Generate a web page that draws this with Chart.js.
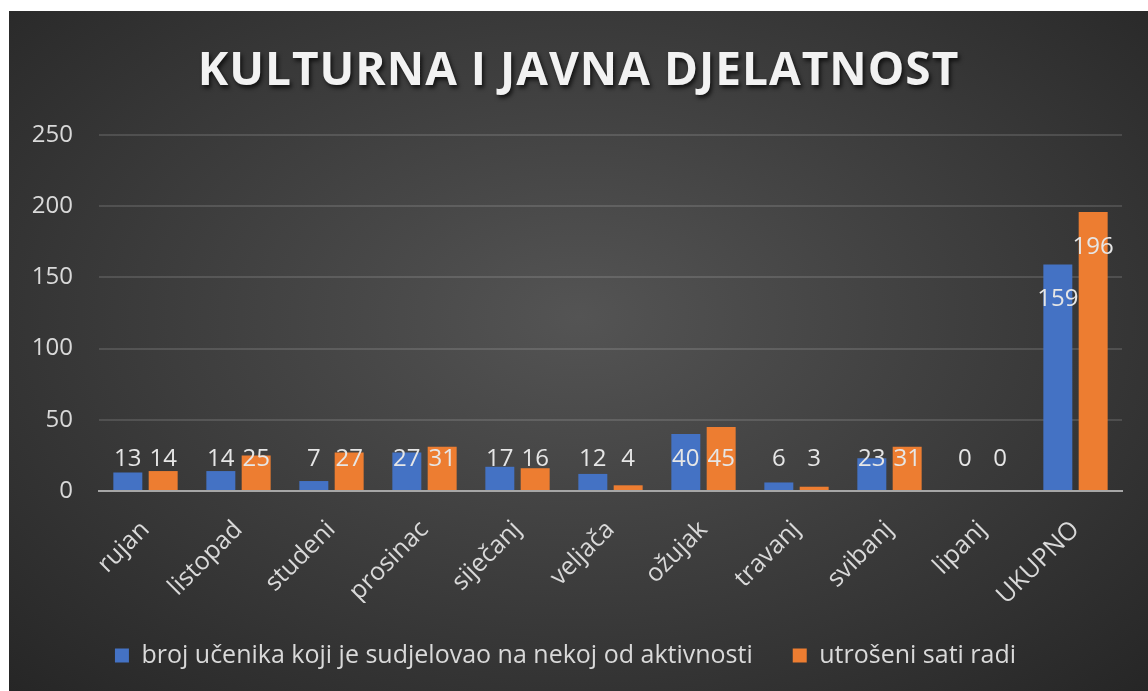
<!DOCTYPE html>
<html>
<head>
<meta charset="utf-8">
<script src="https://cdn.jsdelivr.net/npm/chart.js@4.4.1/dist/chart.umd.min.js"></script>
<style>
    html, body { margin: 0; padding: 0; background: #ffffff; }
    #okvir {
        position: absolute;
        left: 9px; top: 11px;
        width: 1139px; height: 680px;
        background: radial-gradient(ellipse 75% 80% at 50% 45%, #545454 0%, #3c3c3c 50%, #242424 100%);
        overflow: hidden;
    }
    #naslov {
        position: absolute;
        left: 0; right: 0; top: 25px;
        text-align: center;
        font-family: "Open Sans", sans-serif;
        font-weight: 700;
        font-size: 46px;
        letter-spacing: 1px;
        color: #f2f2f2;
        text-shadow: 2px 3px 4px rgba(0, 0, 0, 0.7);
    }
    #graf { position: absolute; left: 0; top: 0; }
</style>
</head>
<body>
<div id="okvir">
    <canvas id="graf" width="1139" height="680"></canvas>
    <div id="naslov">KULTURNA I JAVNA DJELATNOST</div>
</div>
<script>
// podaci ocitani s grafa
const mjeseci = ['rujan', 'listopad', 'studeni', 'prosinac', 'siječanj', 'veljača', 'ožujak', 'travanj', 'svibanj', 'lipanj', 'UKUPNO'];
const brojUcenika = [13, 14, 7, 27, 17, 12, 40, 6, 23, 0, 159];
const utroseniSati = [14, 25, 27, 31, 16, 4, 45, 3, 31, 0, 196];
const yOznake = [0, 50, 100, 150, 200, 250];

const oznakaBoja = '#d9d9d9';
const font = '"Open Sans", sans-serif';
const velicina = 24;

// oznake vrijednosti (kao u Excelu)
const oznakeVrijednosti = {
    id: 'oznakeVrijednosti',
    afterDatasetsDraw(chart) {
        const ctx = chart.ctx;
        const y = chart.scales.y;
        ctx.save();
        ctx.font = velicina + 'px ' + font;
        ctx.fillStyle = '#e6e6e6';
        ctx.textAlign = 'center';
        ctx.textBaseline = 'middle';
        chart.data.datasets.forEach((ds, i) => {
            chart.getDatasetMeta(i).data.forEach((bar, j) => {
                const py = Math.min(y.getPixelForValue(0) - 32, bar.y + 35);
                ctx.fillText(String(ds.data[j]), bar.x, py);
            });
        });
        ctx.restore();
    }
};

const ctx = document.getElementById('graf').getContext('2d');
new Chart(ctx, {
    type: 'bar',
    data: {
        labels: mjeseci,
        datasets: [
            {
                label: 'broj učenika koji je sudjelovao na nekoj od aktivnosti',
                data: brojUcenika,
                backgroundColor: '#4472c4'
            },
            {
                label: 'utrošeni sati radi',
                data: utroseniSati,
                backgroundColor: '#ed7d31'
            }
        ]
    },
    options: {
        responsive: false,
        animation: false,
        categoryPercentage: 0.76,
        barPercentage: 0.82,
        layout: { padding: { top: 124, left: 0, right: 26, bottom: 13 } },
        scales: {
            x: {
                grid: { display: false },
                border: { color: '#a6a6a6', width: 2 },
                afterFit(scale) { scale.height = 112; },
                ticks: {
                    color: oznakaBoja,
                    font: { family: font, size: 25 },
                    maxRotation: 45,
                    minRotation: 45,
                    padding: 16
                }
            },
            y: {
                min: 0,
                max: 250,
                afterBuildTicks(axis) {
                    axis.ticks = yOznake.map(v => ({ value: v }));
                },
                afterFit(scale) { scale.width = 90; },
                grid: { color: 'rgba(255,255,255,0.13)', lineWidth: 2, drawTicks: false },
                border: { display: false },
                ticks: {
                    color: oznakaBoja,
                    font: { family: font, size: velicina },
                    padding: 26
                }
            }
        },
        plugins: {
            legend: {
                position: 'bottom',
                labels: {
                    color: oznakaBoja,
                    font: { family: font, size: 25 },
                    boxWidth: 14,
                    boxHeight: 14,
                    padding: 40
                }
            },
            tooltip: { enabled: false }
        }
    },
    plugins: [oznakeVrijednosti]
});
</script>
</body>
</html>
